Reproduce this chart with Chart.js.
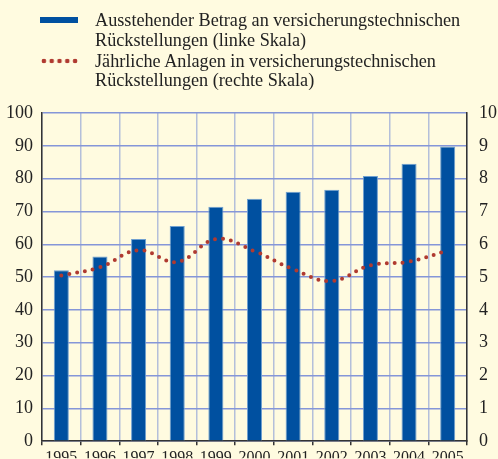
<!DOCTYPE html>
<html>
<head>
<meta charset="utf-8">
<script src="https://cdn.jsdelivr.net/npm/chart.js@4/dist/chart.umd.min.js"></script>
<style>
    body { margin: 0; background: #fffbe0; }
    #wrap { position: relative; width: 498px; height: 459px; background: #fffbe0; overflow: hidden; }
    #legend { position: absolute; left: 0; top: 0; font-family: "Liberation Serif", serif; font-size: 18.2px; color: #222; }
    .row { position: absolute; left: 95px; white-space: nowrap; line-height: 20px; }
    .swatch { position: absolute; left: 40px; width: 38px; }
    .bar-swatch { top: 17px; height: 6px; background: #0050a0; }
    .dot-swatch { top: 58px; height: 6px; background: radial-gradient(circle, #b03a30 2px, transparent 2.6px) 0 0 / 7.8px 6px repeat-x; }
    canvas { position: absolute; left: 0; top: 0; }
</style>
</head>
<body>
<div id="wrap">
    <canvas id="chart" width="498" height="464"></canvas>
    <div id="legend">
        <div class="swatch bar-swatch"></div>
        <div class="row" style="top: 10px;">Ausstehender Betrag an versicherungstechnischen</div>
        <div class="row" style="top: 30px;">Rückstellungen (linke Skala)</div>
        <div class="swatch dot-swatch"></div>
        <div class="row" style="top: 51px;">Jährliche Anlagen in versicherungstechnischen</div>
        <div class="row" style="top: 70px;">Rückstellungen (rechte Skala)</div>
    </div>
</div>
<script>
// Data
const years = ['1995', '1996', '1997', '1998', '1999', '2000', '2001', '2002', '2003', '2004', '2005'];
const outstanding = [52.1, 56.3, 61.6, 65.6, 71.4, 73.9, 76.0, 76.6, 80.8, 84.5, 89.8];
const annualInvestments = [5.05, 5.30, 5.82, 5.46, 6.16, 5.79, 5.24, 4.88, 5.36, 5.47, 5.81];

const serif = '"Liberation Serif", serif';

new Chart(document.getElementById('chart'), {
    type: 'bar',
    data: {
        labels: years,
        datasets: [
            {
                type: 'line',
                label: 'Jährliche Anlagen',
                data: annualInvestments,
                yAxisID: 'yRight',
                borderColor: '#b03a30',
                borderWidth: 4,
                borderDash: [0, 8],
                borderCapStyle: 'round',
                pointRadius: 0,
                tension: 0.4,
                fill: false,
                order: 0
            },
            {
                label: 'Ausstehender Betrag',
                data: outstanding,
                yAxisID: 'yLeft',
                backgroundColor: '#0050a0',
                borderColor: '#6f9fd0',
                borderWidth: 1,
                barPercentage: 0.39,
                categoryPercentage: 1,
                order: 1
            }
        ]
    },
    options: {
        responsive: false,
        animation: false,
        layout: { padding: { top: 113, left: 0, right: 0, bottom: 0 } },
        plugins: { legend: { display: false }, tooltip: { enabled: false } },
        scales: {
            x: {
                offset: true,
                grid: { offset: true, color: '#b4bfda', lineWidth: 1.5, tickColor: '#333', tickLength: 4 },
                border: { color: '#333', width: 1.5 },
                ticks: { color: '#222', font: { family: serif, size: 16 }, padding: 3, maxRotation: 0 },
                afterFit: scale => { scale.height = 17; }
            },
            yLeft: {
                position: 'left',
                min: 0,
                max: 100,
                ticks: { stepSize: 10, color: '#222', font: { family: serif, size: 18 }, padding: 9 },
                grid: { color: '#8596d8', lineWidth: 1.5, drawTicks: false },
                border: { color: '#333', width: 1.5 },
                afterFit: scale => { scale.width = 42; }
            },
            yRight: {
                position: 'right',
                min: 0,
                max: 10,
                ticks: { stepSize: 1, color: '#222', font: { family: serif, size: 18 }, padding: 12 },
                grid: { drawOnChartArea: false, drawTicks: false },
                border: { color: '#333', width: 1.5 },
                afterFit: scale => { scale.width = 31; }
            }
        }
    }
});
</script>
</body>
</html>
